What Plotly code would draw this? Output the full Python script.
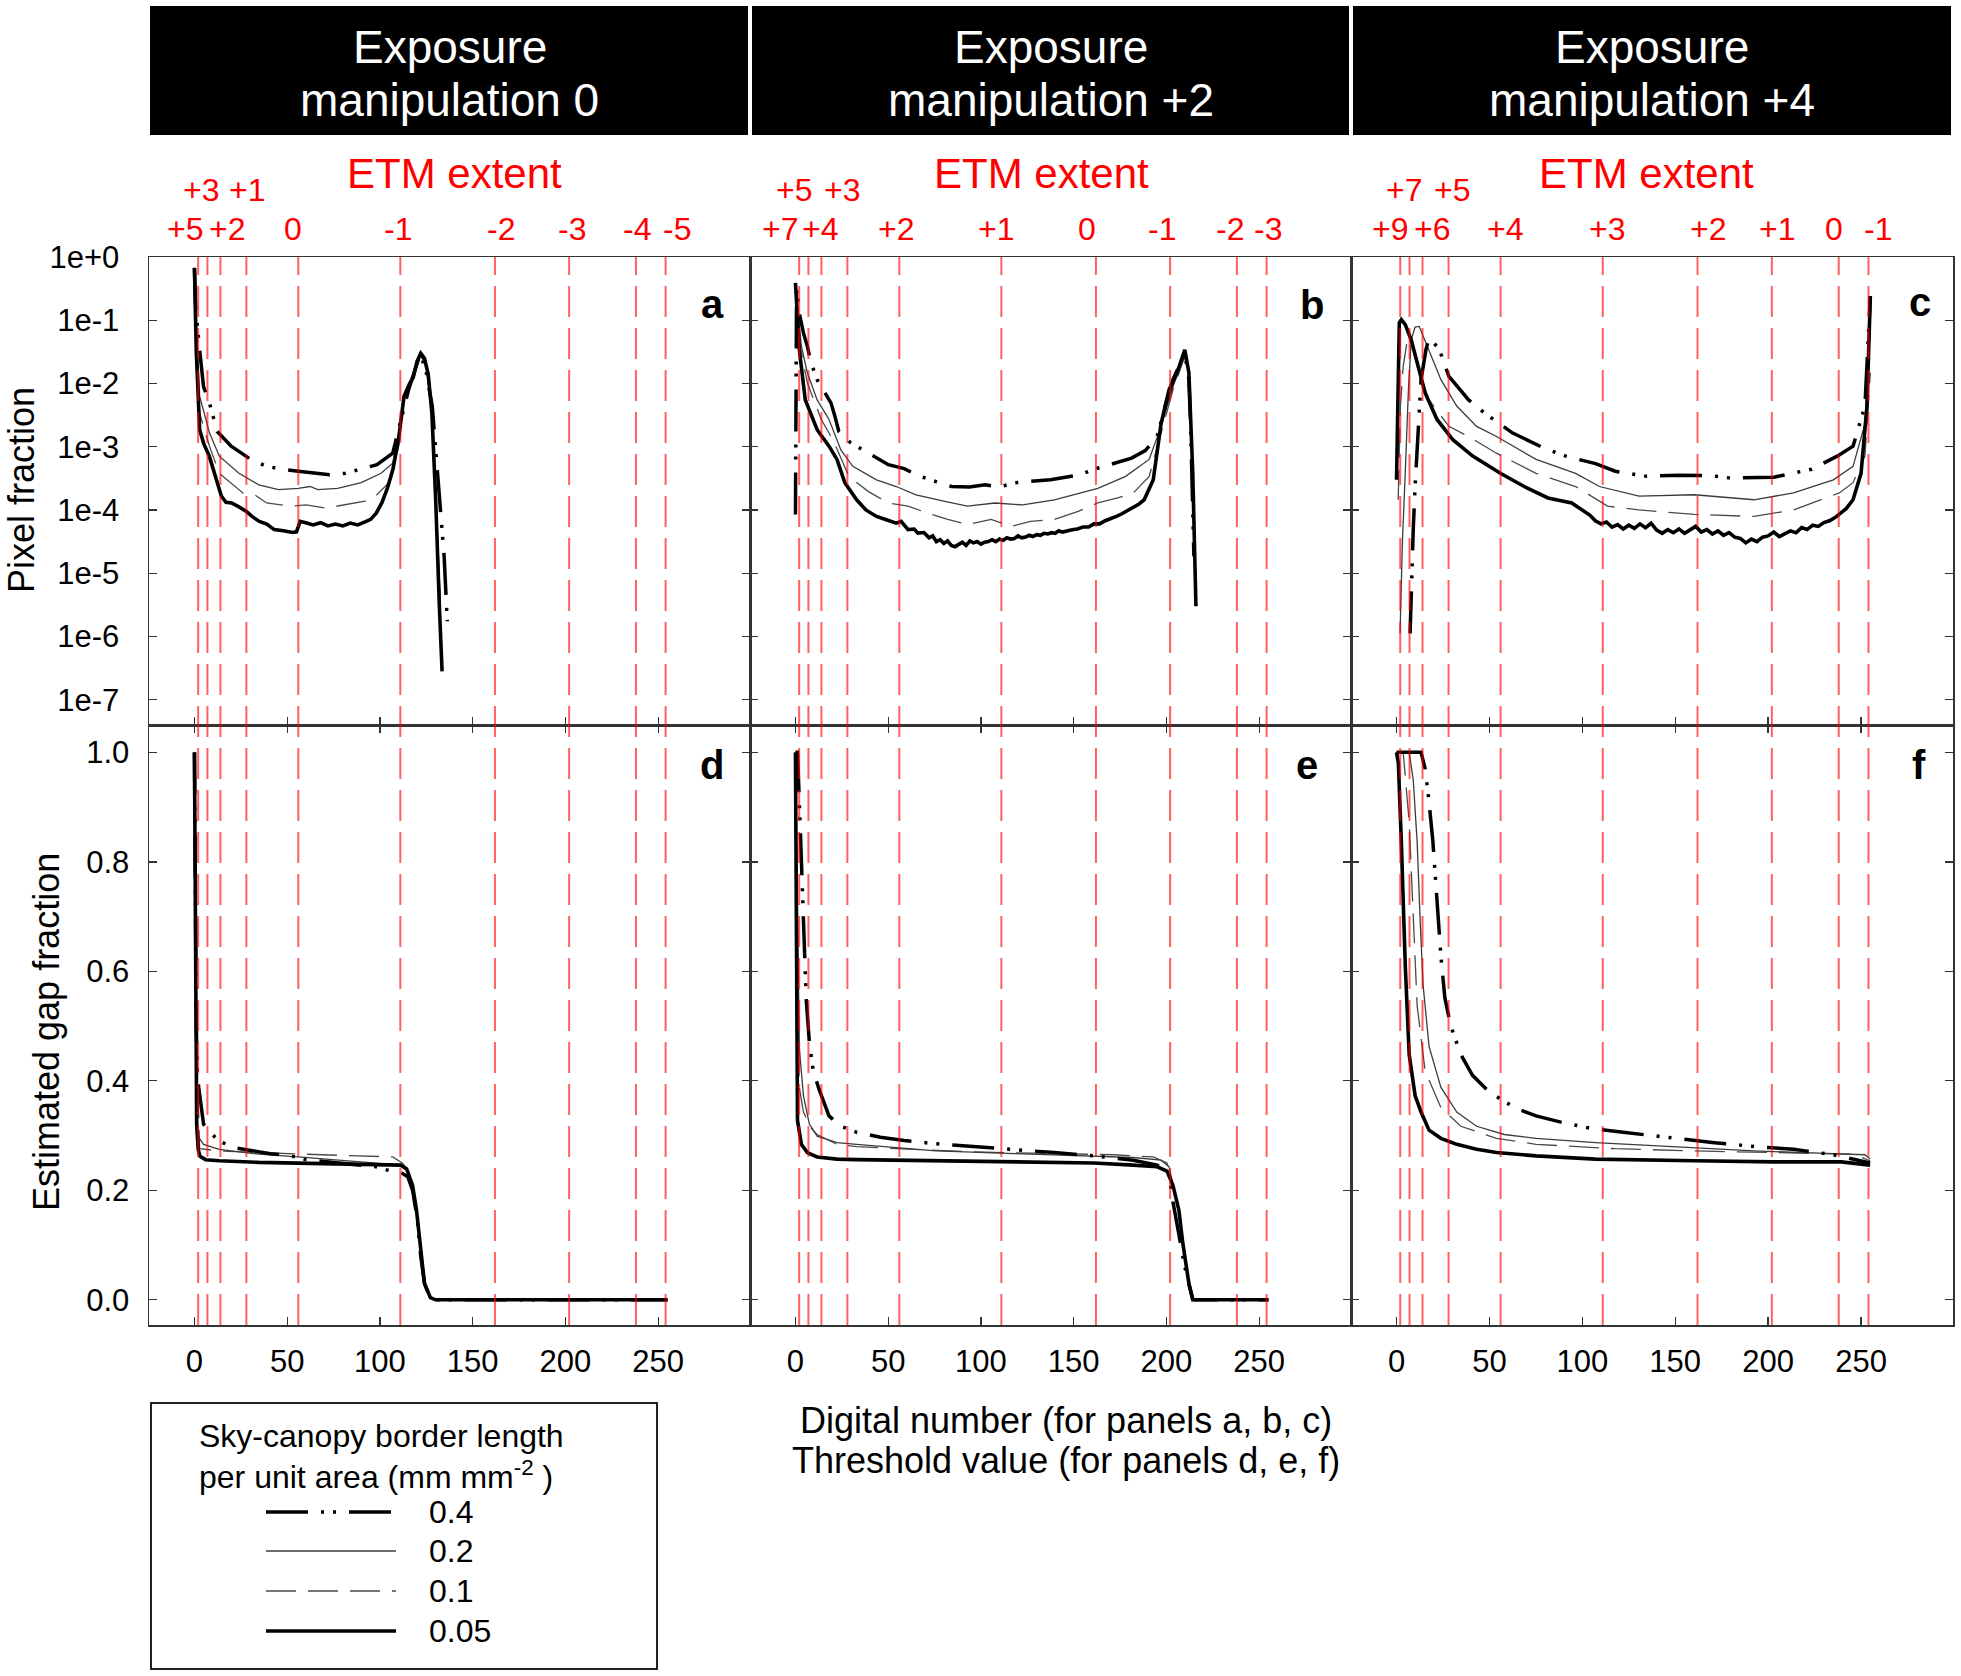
import plotly.graph_objects as go

W, H = 1961, 1676
FONT = "Liberation Sans, Arial, Helvetica, sans-serif"

# ---------------- data ----------------
X_TICKS = [0, 50, 100, 150, 200, 250]
Y_TOP_TICKS = [1, 1e-1, 1e-2, 1e-3, 1e-4, 1e-5, 1e-6, 1e-7]
Y_TOP_TEXT = ["1e+0", "1e-1", "1e-2", "1e-3", "1e-4", "1e-5", "1e-6", "1e-7"]
Y_BOT_TICKS = [0.0, 0.2, 0.4, 0.6, 0.8, 1.0]
Y_BOT_TEXT = ["0.0", "0.2", "0.4", "0.6", "0.8", "1.0"]

ETM_DN = [2, 7, 14, 28, 56, 111, 162, 202, 238, 254]
ETM_LABELS_A = ["+5", "+3", "+2", "+1", "0", "-1", "-2", "-3", "-4", "-5"]
ETM_LABELS_B = ["+7", "+5", "+4", "+3", "+2", "+1", "0", "-1", "-2", "-3"]
ETM_LABELS_C = ["+9", "+7", "+6", "+5", "+4", "+3", "+2", "+1", "0", "-1"]

HEADER_LINE1 = ["Exposure", "Exposure", "Exposure"]
HEADER_LINE2 = ["manipulation 0", "manipulation +2", "manipulation +4"]
PANEL_LETTERS = ["a", "b", "c", "d", "e", "f"]
SERIES = ["0.4", "0.2", "0.1", "0.05"]

# panel a : pixel fraction, exposure 0
a_x_04 = [0, 0.6, 2.8, 4.9, 8.1, 12.3, 19.8, 30.4, 38.9, 47.4, 55.9, 64.4, 72.9, 81.4, 89.9,
          98.4, 106.9, 111.2, 115.4, 121.8, 125, 128.2, 130.3, 132.4, 134.6, 136.3]
a_y_04 = [0.67, 0.166, 0.034, 8.9e-3, 4.9e-3, 1.74e-3, 1.02e-3, 6.3e-4, 4.9e-4, 4.4e-4, 4.1e-4,
          3.8e-4, 3.6e-4, 3.8e-4, 4.4e-4, 5.2e-4, 7.9e-4, 2.7e-3, 7.9e-3, 0.030, 0.0148, 4.4e-3,
          7.9e-4, 1.45e-4, 1.86e-5, 1.74e-6]
a_x_02 = [0, 1, 2.8, 8.1, 13.4, 24.0, 34.7, 45.3, 55.9, 62.3, 66.5, 77.2, 89.9, 100.6, 106.9,
          110.1, 113, 117.6, 121.8, 125, 128.2, 130.3, 132.5]
a_y_02 = [0.67, 0.09, 6.3e-3, 1.66e-3, 7.1e-4, 3.8e-4, 2.5e-4, 2.1e-4, 2.2e-4, 2.35e-4, 2.1e-4,
          2.2e-4, 2.7e-4, 3.8e-4, 5.5e-4, 1.66e-3, 6.0e-3, 0.0115, 0.029, 0.018, 3.3e-3, 1.5e-4, 4e-6]
a_x_01 = [0, 1, 2.8, 8.1, 13.4, 17.6, 26.1, 32.5, 38.9, 51.7, 60.2, 70.8, 81.4, 92.0, 98.4,
          104.8, 110.1, 113, 117.6, 121.8, 125, 128.2, 130.3, 132.5]
a_y_01 = [0.67, 0.07, 3.4e-3, 1.02e-3, 3.8e-4, 3.0e-4, 1.86e-4, 1.74e-4, 1.29e-4, 1.15e-4, 1.2e-4,
          1.07e-4, 1.2e-4, 1.38e-4, 1.74e-4, 2.7e-4, 1.02e-3, 6e-3, 0.011, 0.029, 0.018, 3.3e-3,
          1.4e-4, 3e-6]
a_x_005 = [0, 1, 2.8, 5, 8, 11, 14.5, 17, 20, 24, 28, 31, 35, 39, 43, 48, 53, 55, 57, 60, 64, 68,
           72, 76, 80, 84, 88, 92, 95, 98, 101, 104, 107, 110, 113, 116, 118, 120, 122, 124, 126,
           128, 130, 132, 133.5]
a_y_005 = [0.676, 0.0316, 1.86e-3, 1.12e-3, 7.1e-4, 3.5e-4, 1.66e-4, 1.32e-4, 1.29e-4, 1.12e-4,
           9.5e-5, 7.9e-5, 6.6e-5, 6.0e-5, 4.9e-5, 4.7e-5, 4.4e-5, 4.5e-5, 6.6e-5, 6.3e-5, 5.8e-5,
           6.3e-5, 5.6e-5, 6.0e-5, 5.6e-5, 6.2e-5, 5.8e-5, 6.5e-5, 7.1e-5, 8.9e-5, 1.29e-4, 2.2e-4,
           4.4e-4, 1.29e-3, 6.3e-3, 0.010, 0.0126, 0.0224, 0.030, 0.025, 0.0141, 3.4e-3, 1.6e-4,
           3.2e-6, 2.8e-7]

# panel b : pixel fraction, exposure +2
b_x_04 = [0, 0.3, 0.6, 2.1, 4.3, 6.4, 8.5, 11.7, 19.2, 21.3, 23.4, 29.8, 39.4, 50.1, 58.6, 66.1,
          73.5, 84.2, 93.8, 102.3, 109.8, 118.3, 137.5, 146.0, 153.5, 160.9, 181.2, 188.6, 195.0,
          199.3, 203.5, 209.9, 212.1, 213.1, 214.2, 214.8]
b_y_04 = [8.5e-5, 1e-3, 0.3, 0.129, 0.063, 0.039, 0.021, 0.0115, 4.9e-3, 3.0e-3, 1.74e-3, 1.15e-3,
          7.9e-4, 5.2e-4, 4.5e-4, 3.5e-4, 2.95e-4, 2.35e-4, 2.3e-4, 2.5e-4, 2.3e-4, 2.7e-4, 3.0e-4,
          3.3e-4, 3.6e-4, 4.4e-4, 6.6e-4, 8.7e-4, 1.45e-3, 4.4e-3, 0.0115, 0.030, 0.0115, 1.86e-3,
          5.5e-5, 1.86e-5]
b_x_02 = [0, 1.1, 3.2, 6.4, 11.7, 18.1, 24.5, 30.9, 43.7, 54.3, 65.0, 79.9, 92.7, 107.6, 122.5,
          139.6, 154.5, 163.0, 178.0, 190.7, 197.1, 203.5, 209.9, 212.1, 214.0, 215.5]
b_y_02 = [0.35, 0.166, 0.039, 0.0148, 5.5e-3, 2.7e-3, 8.9e-4, 4.9e-4, 3.0e-4, 2.35e-4, 1.74e-4,
          1.38e-4, 1.15e-4, 1.29e-4, 1.2e-4, 1.45e-4, 1.86e-4, 2.2e-4, 3.4e-4, 6.3e-4, 2.1e-3,
          8.9e-3, 0.029, 0.014, 4e-4, 1.5e-5]
b_x_01 = [0, 1.1, 6.4, 13.9, 20.2, 28.8, 39.4, 50.1, 60.7, 71.4, 82.1, 92.7, 105.5, 116.2, 126.8,
          139.6, 152.4, 163.0, 173.7, 182.2, 190.7, 197.1, 203.5, 209.9, 212.1, 214.0, 215.5]
b_y_01 = [0.35, 0.063, 0.0102, 2.7e-3, 1.29e-3, 3.4e-4, 1.95e-4, 1.29e-4, 1.15e-4, 8.9e-5, 7.1e-5,
          5.9e-5, 7.1e-5, 5.5e-5, 6.6e-5, 7.1e-5, 9.5e-5, 1.29e-4, 1.55e-4, 1.86e-4, 3.4e-4,
          1.66e-3, 7.9e-3, 0.027, 0.013, 3.5e-4, 1.2e-5]
b_x_005 = [0, 2.1, 5.3, 11.7, 18.1, 22.4, 26.6, 33.0, 38, 43.7, 49, 54.3, 57, 60.7, 64, 66, 69.3,
           72, 74, 76, 78, 80, 82, 84, 86, 88, 90, 92, 94, 96, 98, 100, 102, 104, 106, 108, 110,
           112, 114, 116, 118, 120, 122, 124, 126, 128, 130, 132, 134, 136, 138, 140, 142, 144,
           146, 148, 150, 152, 155, 158, 161, 164, 167, 170, 173, 176, 179, 182, 185, 188,
           192.9, 197.1, 201.4, 205.7, 209.9, 212.1, 214.2, 215.9]
b_y_005 = [0.39, 0.034, 5.5e-3, 1.86e-3, 1.02e-3, 6.3e-4, 2.7e-4, 1.45e-4, 1.0e-4, 7.9e-5, 7.0e-5,
           6.2e-5, 6.6e-5, 4.9e-5, 5.0e-5, 4.3e-5, 4.4e-5,
           3.63e-5, 3.89e-5, 3.16e-5, 3.39e-5, 2.95e-5, 3.24e-5, 2.75e-5, 2.63e-5, 2.82e-5,
           3.09e-5, 2.75e-5, 3.24e-5, 3.02e-5, 3.16e-5, 2.88e-5, 3.09e-5, 3.16e-5, 3.39e-5,
           3.16e-5, 3.47e-5, 3.31e-5, 3.63e-5, 3.47e-5, 3.55e-5, 3.89e-5, 3.63e-5, 3.72e-5,
           3.98e-5, 3.8e-5, 4.07e-5, 3.98e-5, 4.27e-5, 4.17e-5, 4.37e-5, 4.27e-5, 4.68e-5,
           4.47e-5, 4.68e-5, 4.79e-5, 4.9e-5, 5.01e-5, 5.37e-5, 5.37e-5, 6.03e-5, 6.03e-5,
           6.76e-5, 7.24e-5, 7.94e-5, 8.71e-5, 9.77e-5, 1.12e-4, 1.23e-4, 1.45e-4,
           3.0e-4, 2.3e-3, 7.9e-3, 0.0148, 0.034, 0.0148, 3.8e-4, 3.0e-6]

# panel c : pixel fraction, exposure +4
c_x_04 = [7.3, 8.1, 9.0, 10.0, 11.1, 13.2, 15.8, 17.5, 22.8, 28.2, 38.8, 47.4, 62.3, 79.4, 91.1,
          107.1, 117.7, 134.8, 151.9, 168.9, 179.6, 194.5, 203.1, 223.3, 237.2, 245.7, 252.1,
          254.3, 255]
c_y_04 = [1.12e-6, 1.15e-5, 4.9e-5, 2.35e-4, 1.02e-3, 0.0115, 0.034, 0.052, 0.036, 0.0129, 5.5e-3,
          3.4e-3, 1.66e-3, 9.5e-4, 7.1e-4, 5.4e-4, 4.1e-4, 3.4e-4, 3.55e-4, 3.5e-4, 3.2e-4, 3.2e-4,
          3.3e-4, 4.4e-4, 7.1e-4, 1.02e-3, 4.4e-3, 0.091, 0.24]
c_x_02 = [1.9, 3.2, 4.7, 6.4, 7.9, 10.0, 12.2, 17.5, 23.9, 32.4, 43.1, 53.8, 75.1, 96.4, 109.2,
          130.5, 160.4, 192.4, 213.7, 235.1, 245.7, 252.1, 255]
c_y_02 = [1.12e-6, 3.4e-5, 3.8e-4, 7.9e-3, 0.049, 0.078, 0.08, 0.034, 0.0115, 4.4e-3, 2.1e-3,
          1.45e-3, 6.3e-4, 3.8e-4, 2.35e-4, 1.66e-4, 1.74e-4, 1.45e-4, 1.86e-4, 3.0e-4, 4.9e-4,
          2.3e-3, 0.091]
c_x_01 = [0.9, 2.1, 3.6, 5.8, 7.3, 11.1, 17.5, 28.2, 38.8, 53.8, 75.1, 96.4, 113.5, 130.5, 160.4,
          192.4, 213.7, 238.3, 245.7, 252.1, 255]
c_y_01 = [1.45e-4, 4.4e-3, 0.0187, 0.049, 0.056, 0.0187, 5.5e-3, 2.1e-3, 1.45e-3, 7.9e-4, 3.8e-4,
          2.35e-4, 1.15e-4, 1.0e-4, 8.5e-5, 7.9e-5, 1.0e-4, 1.86e-4, 2.7e-4, 7.1e-4, 0.0148]
c_x_005 = [0, 0.9, 1.5, 2.6, 4.7, 7.9, 11.1, 15.4, 21.8, 30.3, 41.0, 55.9, 68.7, 81.5, 94.3,
           100, 104, 107, 110, 113, 116, 119, 122, 125, 128, 131, 134, 137, 140, 143, 146, 149,
           152, 155, 158, 161, 164, 167, 170, 173, 176, 179, 182, 185, 188, 191, 194, 197, 200,
           203, 206, 209, 212, 215, 218, 221, 224, 227, 230, 233, 236, 239, 242, 245.7,
           250.0, 253.2, 255]
c_y_005 = [3.0e-4, 0.0148, 0.091, 0.102, 0.085, 0.049, 0.021, 7.1e-3, 2.7e-3, 1.29e-3, 7.1e-4,
           3.8e-4, 2.35e-4, 1.55e-4, 1.29e-4,
           1.0e-4, 8.3e-5, 6.76e-5, 6.03e-5, 6.46e-5, 5.37e-5, 5.89e-5, 5.01e-5, 5.75e-5, 5.13e-5,
           6.03e-5, 5.25e-5, 6.17e-5, 4.79e-5, 4.27e-5, 4.9e-5, 4.37e-5, 5.01e-5, 4.27e-5,
           4.79e-5, 5.5e-5, 4.47e-5, 4.9e-5, 4.17e-5, 4.68e-5, 3.98e-5, 4.37e-5, 3.72e-5, 3.55e-5,
           3.02e-5, 3.47e-5, 3.16e-5, 3.72e-5, 3.89e-5, 4.47e-5, 3.8e-5, 4.27e-5, 4.68e-5,
           4.37e-5, 5.25e-5, 4.9e-5, 5.75e-5, 5.5e-5, 6.31e-5, 6.76e-5, 7.59e-5, 8.91e-5,
           1.05e-4, 1.45e-4,
           3.8e-4, 4.4e-3, 0.24]

# panel d : gap fraction, exposure 0
d_x_04 = [0, 0.5, 1, 1.5, 2.3, 4.9, 8.1, 14, 21.5, 28, 41, 52, 59, 66, 82, 98, 104, 112, 115,
          117.6, 120, 122, 124, 127, 130, 255]
d_y_04 = [1.0, 0.7, 0.5, 0.42, 0.388, 0.321, 0.306, 0.289, 0.278, 0.274, 0.267, 0.263, 0.257,
          0.254, 0.249, 0.243, 0.237, 0.231, 0.225, 0.2, 0.15, 0.08, 0.03, 0.004, 0.0, 0.0]
d_x_02 = [0, 0.5, 1.7, 4.9, 13.4, 34.7, 55.9, 77.2, 98.4, 111.2, 114, 117.6, 120, 122, 124, 127,
          130, 255]
d_y_02 = [1.0, 0.6, 0.3, 0.284, 0.275, 0.266, 0.261, 0.255, 0.25, 0.246, 0.24, 0.21, 0.16, 0.09,
          0.03, 0.004, 0.0, 0.0]
d_x_01 = [0, 0.5, 2.8, 13.4, 34.7, 55.9, 77.2, 106.9, 112, 114.5, 117.6, 120, 122, 124, 127, 130,
          255]
d_y_01 = [1.0, 0.55, 0.276, 0.272, 0.269, 0.266, 0.264, 0.261, 0.25, 0.24, 0.21, 0.16, 0.09, 0.03,
          0.004, 0.0, 0.0]
d_x_005 = [0, 0.3, 0.6, 1.2, 2, 3, 6, 13.4, 34.7, 55.9, 77.2, 98.4, 111.2, 114.4, 117.6, 119.7,
           121.9, 124, 127.2, 130, 255]
d_y_005 = [1.0, 0.75, 0.45, 0.32, 0.275, 0.262, 0.256, 0.254, 0.251, 0.25, 0.249, 0.248, 0.246,
           0.239, 0.209, 0.164, 0.09, 0.03, 0.004, 0.0, 0.0]

# panel e : gap fraction, exposure +2
e_x_04 = [0, 1.1, 2.1, 3.2, 4.3, 5.8, 7.5, 9.6, 12.8, 18.1, 24.5, 33.0, 45.8, 58.6, 75.7, 97.0,
          118.3, 139.6, 160.9, 182.2, 195.0, 201.4, 203.5, 206.7, 209.9, 213.1, 214.2, 255]
e_y_04 = [1.0, 1.0, 0.91, 0.8, 0.66, 0.55, 0.47, 0.418, 0.384, 0.336, 0.317, 0.306, 0.297, 0.291,
          0.285, 0.28, 0.275, 0.269, 0.263, 0.255, 0.246, 0.231, 0.179, 0.119, 0.06, 0.015, 0.0, 0.0]
e_x_02 = [0, 1.1, 2.1, 4.3, 7.5, 11.7, 22.4, 33.0, 54.3, 75.7, 118.3, 160.9, 182.2, 197.1, 201.4,
          203.5, 206.7, 208.8, 212.1, 214.2, 215.3, 255]
e_y_02 = [1.0, 0.687, 0.46, 0.373, 0.321, 0.299, 0.287, 0.284, 0.278, 0.272, 0.267, 0.263, 0.26,
          0.255, 0.243, 0.21, 0.16, 0.1, 0.03, 0.001, 0.0, 0.0]
e_x_01 = [0, 1.0, 2.1, 4.3, 8.5, 11.7, 22.4, 33.0, 54.3, 97.0, 139.6, 171.6, 192.9, 200.3, 203.5,
          206.7, 208.8, 212.1, 214.2, 215.3, 255]
e_y_01 = [1.0, 0.6, 0.388, 0.343, 0.313, 0.302, 0.284, 0.28, 0.276, 0.27, 0.267, 0.265, 0.261,
          0.25, 0.21, 0.16, 0.1, 0.03, 0.001, 0.0, 0.0]
e_x_005 = [0, 0.5, 1.1, 3.2, 6.4, 11.7, 22.4, 33.0, 75.7, 118.3, 160.9, 182.2, 195.0, 200.3, 203.5,
           206.7, 208.8, 212.1, 214.2, 215.3, 255]
e_y_005 = [1.0, 0.6, 0.328, 0.284, 0.269, 0.261, 0.257, 0.256, 0.254, 0.252, 0.25, 0.246, 0.243,
           0.235, 0.209, 0.164, 0.104, 0.03, 0.001, 0.0, 0.0]

# panel f : gap fraction, exposure +4
f_x_04 = [0, 13.2, 15.4, 17.5, 19.6, 21.8, 23.9, 26.0, 29.2, 34.6, 40.9, 49.5, 58.0, 66.5, 75.1,
          87.9, 104.9, 122.0, 149.7, 171.1, 192.4, 213.7, 235.1, 254.9]
f_y_04 = [1.0, 1.0, 0.97, 0.91, 0.836, 0.724, 0.627, 0.552, 0.5, 0.448, 0.41, 0.381, 0.362, 0.347,
          0.336, 0.325, 0.313, 0.306, 0.295, 0.287, 0.28, 0.275, 0.265, 0.25]
f_x_02 = [0, 6.8, 9.0, 11.1, 12.8, 14.3, 17.5, 23.9, 32.4, 43.1, 58.0, 75.1, 107.1, 149.7, 192.4,
          235.1, 252.1, 254.9]
f_y_02 = [1.0, 1.0, 0.95, 0.836, 0.687, 0.575, 0.463, 0.388, 0.343, 0.317, 0.302, 0.295, 0.287,
          0.28, 0.272, 0.267, 0.265, 0.257]
f_x_01 = [0, 3.6, 6.8, 9.0, 11.1, 15.4, 23.9, 34.6, 53.8, 75.1, 117.7, 160.4, 203.1, 245.7, 254.9]
f_y_01 = [1.0, 1.0, 0.873, 0.687, 0.537, 0.418, 0.351, 0.317, 0.295, 0.284, 0.276, 0.272, 0.269,
          0.266, 0.254]
f_x_005 = [0, 1.0, 2.6, 4.7, 6.8, 10.0, 13.2, 17.5, 23.9, 32.4, 43.1, 53.8, 75.1, 107.1, 160.4,
           203.1, 239.3, 254.9]
f_y_005 = [1.0, 0.98, 0.836, 0.612, 0.448, 0.373, 0.343, 0.31, 0.295, 0.284, 0.275, 0.269, 0.263,
           0.257, 0.254, 0.252, 0.252, 0.246]

DATA = {
    "a": {"0.4": (a_x_04, a_y_04), "0.2": (a_x_02, a_y_02), "0.1": (a_x_01, a_y_01), "0.05": (a_x_005, a_y_005)},
    "b": {"0.4": (b_x_04, b_y_04), "0.2": (b_x_02, b_y_02), "0.1": (b_x_01, b_y_01), "0.05": (b_x_005, b_y_005)},
    "c": {"0.4": (c_x_04, c_y_04), "0.2": (c_x_02, c_y_02), "0.1": (c_x_01, c_y_01), "0.05": (c_x_005, c_y_005)},
    "d": {"0.4": (d_x_04, d_y_04), "0.2": (d_x_02, d_y_02), "0.1": (d_x_01, d_y_01), "0.05": (d_x_005, d_y_005)},
    "e": {"0.4": (e_x_04, e_y_04), "0.2": (e_x_02, e_y_02), "0.1": (e_x_01, e_y_01), "0.05": (e_x_005, e_y_005)},
    "f": {"0.4": (f_x_04, f_y_04), "0.2": (f_x_02, f_y_02), "0.1": (f_x_01, f_y_01), "0.05": (f_x_005, f_y_005)},
}

# ---------------- styles / layout ----------------
DASH_04 = "42px,13px,3px,9px,3px,13px"
DASH_01 = "30px,12px"
STYLE = {
    "0.4": dict(color="black", width=3.5, dash=DASH_04),
    "0.2": dict(color="#3c3c3c", width=1.3, dash="solid"),
    "0.1": dict(color="#4a4a4a", width=1.3, dash=DASH_01),
    "0.05": dict(color="black", width=3.6, dash="solid"),
}
DRAW_ORDER = ["0.1", "0.2", "0.4", "0.05"]
RED = "rgba(255,0,0,0.62)"

# pixel geometry of the reference
COL_X = [(149, 750), (750, 1351), (1351, 1953)]
ROW_Y = [(257, 725), (725, 1325)]
X_RANGE = [-24.5, 299.5]
Y_TOP_RANGE = [-7.4, 0]
Y_BOT_RANGE = [-0.046, 1.05]

# ETM label positions (DN), row 0 = lower line, 1 = upper line
ETM_ROW = [0, 1, 0, 1, 0, 0, 0, 0, 0, 0]
ETM_POS = [
    [-4.9, 3.3, 17.4, 28.2, 53.2, 109.9, 165.2, 203.7, 238.8, 260.4],
    [-8.1, -0.7, 13.4, 24.9, 54.4, 108.2, 157.3, 197.7, 234.0, 254.7],
    [-3.4, 4.0, 18.9, 29.6, 58.6, 113.2, 167.8, 204.9, 235.2, 259.4],
]
ETM_TITLE_X = [454, 1041, 1646]
LETTER_POS = [(712, 304), (1312, 305), (1920, 302), (712, 765), (1307, 765), (1919, 765)]


def px(x):
    return x / W


def py(y):
    return 1 - y / H


fig = go.Figure()
panels = ["a", "b", "c", "d", "e", "f"]
for i, p in enumerate(panels, start=1):
    sfx = "" if i == 1 else str(i)
    for s in DRAW_ORDER:
        xs, ys = DATA[p][s]
        fig.add_trace(go.Scatter(x=xs, y=ys, mode="lines", line=STYLE[s],
                                 xaxis="x" + sfx, yaxis="y" + sfx,
                                 showlegend=False, hoverinfo="skip"))

layout = dict(
    width=W, height=H, margin=dict(l=0, r=0, t=0, b=0, autoexpand=False),
    paper_bgcolor="white", plot_bgcolor="white",
    font=dict(family=FONT, color="black", size=31),
    showlegend=False,
)
axis_common = dict(showgrid=False, zeroline=False, showline=True, linecolor="#333",
                   linewidth=1.5, ticks="inside", ticklen=8, tickwidth=1.3, tickcolor="#333",
                   automargin=False,
                   tickfont=dict(family=FONT, size=31, color="black"))
for i in range(1, 7):
    col = (i - 1) % 3
    row = (i - 1) // 3
    sfx = "" if i == 1 else str(i)
    xa = dict(axis_common)
    xa.update(domain=[px(COL_X[col][0]), px(COL_X[col][1])], range=X_RANGE,
              tickvals=X_TICKS, anchor="y" + sfx,
              mirror="ticks" if row == 1 else True,
              showticklabels=(row == 1), ticklabelstandoff=8)
    ya = dict(axis_common)
    ya.update(domain=[py(ROW_Y[row][1]), py(ROW_Y[row][0])], anchor="x" + sfx, mirror="ticks",
              showticklabels=(col == 0))
    if row == 0:
        ya.update(type="log", range=Y_TOP_RANGE, tickvals=Y_TOP_TICKS, ticktext=Y_TOP_TEXT,
                  ticklabelstandoff=22)
    else:
        ya.update(range=Y_BOT_RANGE, tickvals=Y_BOT_TICKS, ticktext=Y_BOT_TEXT,
                  ticklabelstandoff=12)
    layout["xaxis" + sfx] = xa
    layout["yaxis" + sfx] = ya

# red ETM ticks on the top edge of the upper panels
for col in range(3):
    base = "x" if col == 0 else "x" + str(col + 1)
    ybase = "y" if col == 0 else "y" + str(col + 1)
    layout["xaxis" + str(7 + col)] = dict(
        overlaying=base, side="top", anchor=ybase, range=X_RANGE, tickvals=ETM_DN,
        ticks="outside", ticklen=6, tickwidth=1.5, tickcolor="red", showticklabels=False,
        showline=False, showgrid=False, zeroline=False, automargin=False,
        domain=[px(COL_X[col][0]), px(COL_X[col][1])])

fig.update_layout(**layout)

shapes = []
annotations = []

# red dashed ETM lines through both rows
for col in range(3):
    xr = "x" if col == 0 else "x" + str(col + 1)
    for dn in ETM_DN:
        shapes.append(dict(type="line", xref=xr, yref="paper", x0=dn, x1=dn,
                           y0=py(ROW_Y[1][1]), y1=py(ROW_Y[0][0]),
                           line=dict(color=RED, width=2, dash="31px,11px"), layer="above"))

# ETM labels
etm_labels = [ETM_LABELS_A, ETM_LABELS_B, ETM_LABELS_C]
for col in range(3):
    xr = "x" if col == 0 else "x" + str(col + 1)
    for k, lab in enumerate(etm_labels[col]):
        yy = 229 if ETM_ROW[k] == 0 else 190
        annotations.append(dict(text=lab, xref=xr, yref="paper", x=ETM_POS[col][k], y=py(yy),
                                xanchor="center", yanchor="middle", showarrow=False,
                                font=dict(family=FONT, size=32, color="red")))
    annotations.append(dict(text="ETM extent", xref="paper", yref="paper", x=px(ETM_TITLE_X[col]),
                            y=py(174), xanchor="center", yanchor="middle", showarrow=False,
                            font=dict(family=FONT, size=42, color="red")))

# header boxes
for col in range(3):
    x0 = COL_X[col][0] + (1 if col == 0 else 2)
    x1 = COL_X[col][1] - 2
    shapes.append(dict(type="rect", xref="paper", yref="paper", x0=px(x0), x1=px(x1),
                       y0=py(135), y1=py(6), fillcolor="black", line=dict(width=0),
                       layer="below"))
    cx = (COL_X[col][0] + COL_X[col][1]) / 2
    annotations.append(dict(text=HEADER_LINE1[col], xref="paper", yref="paper", x=px(cx),
                            y=py(47), xanchor="center", yanchor="middle", showarrow=False,
                            font=dict(family=FONT, size=46, color="white")))
    annotations.append(dict(text=HEADER_LINE2[col], xref="paper", yref="paper", x=px(cx),
                            y=py(100), xanchor="center", yanchor="middle", showarrow=False,
                            font=dict(family=FONT, size=46, color="white")))

# panel letters
for letter, (lx, ly) in zip(PANEL_LETTERS, LETTER_POS):
    annotations.append(dict(text="<b>%s</b>" % letter, xref="paper", yref="paper", x=px(lx),
                            y=py(ly), xanchor="center", yanchor="middle", showarrow=False,
                            font=dict(family=FONT, size=40, color="black")))

# axis titles
annotations.append(dict(text="Pixel fraction", xref="paper", yref="paper", x=px(21), y=py(490),
                        textangle=-90, xanchor="center", yanchor="middle", showarrow=False,
                        font=dict(family=FONT, size=36)))
annotations.append(dict(text="Estimated gap fraction", xref="paper", yref="paper", x=px(46),
                        y=py(1032), textangle=-90, xanchor="center", yanchor="middle",
                        showarrow=False, font=dict(family=FONT, size=36)))
annotations.append(dict(text="Digital number (for panels a, b, c)", xref="paper", yref="paper",
                        x=px(1066), y=py(1420), xanchor="center", yanchor="middle",
                        showarrow=False, font=dict(family=FONT, size=36)))
annotations.append(dict(text="Threshold value (for panels d, e, f)", xref="paper", yref="paper",
                        x=px(1066), y=py(1460), xanchor="center", yanchor="middle",
                        showarrow=False, font=dict(family=FONT, size=36)))

# legend (drawn manually)
shapes.append(dict(type="rect", xref="paper", yref="paper", x0=px(151), x1=px(657),
                   y0=py(1669), y1=py(1403), line=dict(color="#222", width=2),
                   fillcolor="white", layer="below"))
annotations.append(dict(text="Sky-canopy border length", xref="paper", yref="paper", x=px(197),
                        y=py(1436), xanchor="left", yanchor="middle", showarrow=False,
                        font=dict(family=FONT, size=32)))
annotations.append(dict(text="per unit area (mm mm<sup>-2</sup> )", xref="paper", yref="paper",
                        x=px(197), y=py(1475), xanchor="left", yanchor="middle",
                        showarrow=False, font=dict(family=FONT, size=32)))
LEG_Y = [1512, 1551, 1591, 1631]
for s, ly in zip(SERIES, LEG_Y):
    st = STYLE[s]
    shapes.append(dict(type="line", xref="paper", yref="paper", x0=px(266), x1=px(396),
                       y0=py(ly), y1=py(ly),
                       line=dict(color=st["color"], width=st["width"], dash=st["dash"])))
    annotations.append(dict(text=s, xref="paper", yref="paper", x=px(427), y=py(ly),
                            xanchor="left", yanchor="middle", showarrow=False,
                            font=dict(family=FONT, size=32)))

fig.update_layout(shapes=shapes, annotations=annotations)

fig.write_html("out.html", include_plotlyjs=True, full_html=True,
               config={"displayModeBar": False, "staticPlot": True},
               post_script="document.body.style.margin='0';document.body.style.overflow='hidden';")
